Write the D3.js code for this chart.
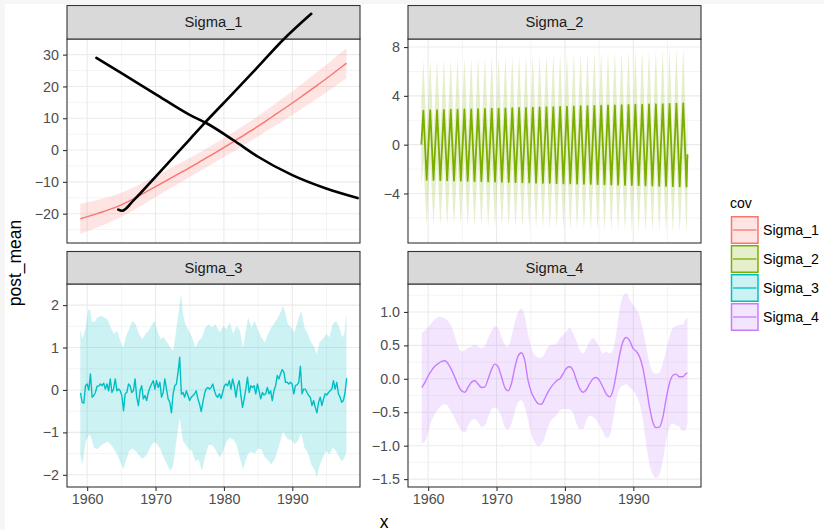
<!DOCTYPE html>
<html><head><meta charset="utf-8">
<script src="https://cdn.jsdelivr.net/npm/d3@7"></script>
<style>body{margin:0;background:#fff} svg{display:block} text{font-family:"Liberation Sans", Arial, Helvetica, sans-serif}</style>
</head><body><svg id="c" width="824" height="530"></svg>
<script>
// ---------------- DATA ----------------
const covNames = ["Sigma_1","Sigma_2","Sigma_3","Sigma_4"];
const xTicks = [1960,1970,1980,1990];
const xMinor = [1965,1975,1985,1995];

// Sigma_1
const s1_year = [1959,1961,1963,1965,1967,1969,1971,1973,1975,1977,1979,1981,1983,1985,1987,1989,1991,1993,1995,1997,1997.92];
const s1_mean = [-21.6,-20.3,-18.9,-17.2,-15.1,-12.7,-10.3,-7.9,-5.5,-3.0,-0.5,2.1,4.8,7.5,10.4,13.3,16.3,19.4,22.5,25.8,27.3];
const s1_hi   = [-16.9,-15.9,-14.8,-13.4,-11.5,-9.3,-7.1,-4.8,-2.5,-0.05,2.45,5.1,7.9,10.7,13.8,16.9,20.1,23.5,26.8,30.4,32.0];
const s1_lo   = [-26.3,-24.7,-23.0,-21.0,-18.7,-16.1,-13.5,-11.0,-8.5,-5.95,-3.45,-0.9,1.7,4.3,7.0,9.7,12.5,15.3,18.2,21.2,22.6];
// black annotation strokes drawn over Sigma_1 (in Sigma_1 data units)
const markA_x = [1961.35,1965.14,1969.99,1975.0,1977.47,1981.35,1984.99,1990.0,1994.95,1999.55];
const markA_y = [28.96,24.0,17.6,11.05,8.43,3.16,-2.1,-7.9,-12.1,-15.1];
const markB_x = [1964.55,1965.1,1966.78,1969.99,1975.04,1977.23,1981.35,1984.99,1988.63,1992.77];
const markB_y = [-18.7,-19.1,-15.8,-8.4,3.47,8.62,17.9,26.2,34.6,42.85];

// Sigma_2 (one peak and one trough per year)
const s2_start = [0, 3.5];      // value, half-width
const s2_end   = [-0.79, 3.9];
const s2_top = [2.79,2.82,2.83,2.84,2.86,2.87,2.89,2.90,2.92,2.93,2.95,2.96,2.98,2.99,3.01,3.02,3.04,3.05,3.07,3.08,3.10,3.12,3.13,3.15,3.16,3.18,3.19,3.21,3.22,3.24,3.25,3.27,3.28,3.30,3.31,3.33,3.35,3.37,3.39];
const s2_bot = [-2.89,-2.90,-2.92,-2.93,-2.95,-2.96,-2.98,-2.99,-3.00,-3.02,-3.03,-3.05,-3.06,-3.07,-3.09,-3.10,-3.12,-3.13,-3.14,-3.16,-3.17,-3.18,-3.20,-3.21,-3.23,-3.24,-3.25,-3.27,-3.28,-3.30,-3.31,-3.32,-3.34,-3.35,-3.37,-3.38,-3.40,-3.42,-3.44];
const s2_sdTop = [4.15,4.16,4.17,4.18,4.19,4.20,4.21,4.22,4.23,4.24,4.25,4.26,4.27,4.28,4.29,4.30,4.31,4.32,4.33,4.34,4.35,4.36,4.37,4.38,4.39,4.40,4.41,4.42,4.43,4.44,4.45,4.46,4.47,4.48,4.49,4.50,4.50,4.51,4.51];
const s2_sdBot = [3.70,3.70,3.71,3.71,3.72,3.72,3.73,3.73,3.74,3.74,3.75,3.75,3.76,3.76,3.77,3.77,3.78,3.78,3.79,3.79,3.80,3.80,3.80,3.81,3.81,3.81,3.82,3.82,3.82,3.83,3.83,3.83,3.84,3.84,3.84,3.85,3.85,3.86,3.86];

// Sigma_3 posterior mean (quarterly, 1959.03 .. 1998)
const s3_mean = [-0.07,-0.29,-0.31,0.10,0.14,0.00,0.38,-0.17,-0.13,-0.06,0.09,0.09,0.14,0.10,0.16,0.02,0.14,-0.02,0.26,-0.06,0.02,0.26,-0.02,0.02,-0.02,-0.13,-0.49,-0.09,-0.06,0.14,0.10,-0.06,-0.02,0.26,-0.17,-0.37,-0.02,0.10,-0.21,-0.13,-0.25,-0.06,0.06,0.14,0.22,0.02,0.22,0.06,0.18,-0.17,-0.06,0.26,0.02,-0.21,-0.29,-0.54,-0.09,0.10,0.14,0.42,0.77,-0.10,-0.06,-0.17,-0.02,-0.13,-0.25,-0.17,-0.13,-0.09,-0.02,-0.21,-0.33,-0.51,-0.29,-0.09,0.02,0.06,0.02,0.06,0.14,-0.02,-0.13,-0.17,-0.09,-0.20,-0.06,0.10,0.14,0.10,0.22,0.02,0.26,0.10,-0.17,0.10,0.22,-0.13,-0.41,-0.21,0.02,0.30,-0.06,0.10,0.06,0.10,-0.09,0.14,-0.02,-0.21,-0.06,-0.12,-0.09,0.06,-0.09,-0.02,-0.25,-0.02,0.10,0.34,0.26,0.38,0.48,0.42,0.18,0.18,0.14,0.18,0.14,-0.09,0.10,0.12,0.18,0.56,-0.09,0.02,0.02,-0.06,-0.13,-0.17,-0.37,-0.25,-0.41,-0.54,-0.29,-0.17,-0.37,-0.21,-0.09,-0.12,-0.06,-0.02,0.02,0.22,0.02,0.18,-0.09,-0.17,-0.29,-0.25,-0.06,0.28];
const s3_bandYear = [1959.0,1959.31,1959.80,1960.14,1960.43,1960.63,1961.01,1961.50,1961.98,1962.47,1962.96,1963.44,1963.93,1964.41,1964.90,1965.29,1965.63,1966.11,1966.60,1967.08,1967.57,1968.05,1968.54,1969.02,1969.51,1969.85,1970.24,1970.72,1971.21,1971.69,1972.18,1972.57,1972.91,1973.25,1973.54,1973.73,1974.02,1974.36,1974.85,1975.33,1975.82,1976.30,1976.79,1977.28,1977.76,1978.25,1978.73,
  1979.41,1979.89,1980.38,1980.86,1981.35,1981.83,1982.32,1982.80,1983.05,1983.53,1984.02,1984.50,1984.99,1985.47,1985.96,1986.45,1986.93,1987.42,1987.90,1988.39,1988.63,1988.87,1989.36,1989.84,1990.33,1990.81,1991.30,1991.78,1992.27,1992.76,1993.24,1993.58,1993.97,1994.45,1994.94,1995.43,1995.91,1996.40,1996.88,1997.27,1997.61,1997.85,1997.92];
const s3_hi = [1.43,1.20,1.47,1.87,1.91,1.63,1.59,1.71,1.75,1.71,1.67,1.47,1.32,1.40,1.12,1.00,1.24,1.43,1.63,1.55,1.32,1.20,1.32,1.40,1.55,1.63,1.40,1.20,1.24,1.12,1.00,0.92,1.28,1.71,2.03,2.28,1.79,1.55,1.40,1.24,1.00,1.16,1.24,1.47,1.55,1.47,1.55,
  1.36,1.51,1.43,1.59,1.32,1.51,1.40,1.00,1.24,1.71,1.47,1.63,1.40,1.24,1.12,1.32,1.47,1.59,1.71,1.87,1.99,1.87,1.55,1.47,1.36,1.63,1.87,1.47,1.32,1.12,1.00,0.84,1.12,1.20,1.32,1.24,1.55,1.63,1.47,1.24,1.32,1.75,1.79];
const s3_lo = [-1.55,-1.76,-1.21,-1.09,-1.05,-1.15,-1.36,-1.40,-1.32,-1.26,-1.22,-1.28,-1.40,-1.52,-1.72,-1.87,-1.70,-1.44,-1.38,-1.44,-1.54,-1.62,-1.56,-1.42,-1.28,-1.23,-1.28,-1.40,-1.60,-1.76,-1.91,-1.79,-1.36,-0.97,-0.65,-0.89,-1.21,-1.28,-1.40,-1.44,-1.68,-1.64,-1.91,-1.55,-1.30,-1.30,-1.40,
  -1.60,-1.44,-1.21,-1.13,-1.17,-1.28,-1.60,-1.87,-1.74,-1.50,-1.46,-1.50,-1.38,-1.40,-1.58,-1.66,-1.75,-1.64,-1.40,-1.13,-0.97,-1.05,-1.17,-1.17,-1.28,-1.20,-1.01,-1.36,-1.48,-1.76,-1.87,-2.07,-1.79,-1.60,-1.44,-1.52,-1.36,-1.44,-1.60,-1.68,-1.60,-1.50,-1.44];

// Sigma_4
const s4_year = [1959.07,1959.56,1960.04,1960.53,1961.01,1961.50,1961.98,1962.47,1962.95,1963.44,1963.92,1964.41,1964.89,1965.38,1965.87,1966.35,1966.84,1967.32,1967.81,1968.29,1968.78,1969.26,1969.75,1970.23,1970.72,1971.21,1971.69,1972.18,1972.66,1973.15,1973.63,1974.12,1974.60,1975.09,1975.57,1976.06,1976.55,1977.03,1977.52,1978.00,1978.49,1978.88,
  1979.27,1979.75,1980.24,1980.72,1981.21,1981.69,1982.18,1982.66,1983.15,1983.63,1984.12,1984.60,1985.09,1985.58,1986.06,1986.55,1987.03,1987.52,1988.00,1988.49,1988.97,1989.46,1989.94,1990.43,1990.91,1991.40,1991.89,1992.37,1992.86,1993.34,1993.83,1994.31,1994.80,1995.28,1995.77,1996.25,1996.74,1997.23,1997.71,1997.92];
const s4_mean = [-0.13,-0.05,0.05,0.13,0.19,0.23,0.26,0.27,0.22,0.13,0.02,-0.10,-0.18,-0.20,-0.12,-0.05,-0.03,-0.08,-0.13,-0.12,0.00,0.14,0.22,0.18,0.03,-0.13,-0.18,-0.07,0.16,0.34,0.39,0.28,-0.02,-0.20,-0.30,-0.37,-0.38,-0.30,-0.20,-0.12,-0.06,-0.02,
  0.00,0.08,0.16,0.18,0.12,-0.02,-0.15,-0.20,-0.16,-0.07,0.00,0.02,-0.03,-0.13,-0.23,-0.27,-0.17,0.08,0.36,0.56,0.62,0.57,0.46,0.41,0.33,0.16,-0.12,-0.42,-0.65,-0.73,-0.72,-0.58,-0.30,-0.07,0.05,0.07,0.03,0.03,0.08,0.09];
const s4_hi = [0.69,0.73,0.78,0.84,0.89,0.93,0.92,0.90,0.86,0.78,0.63,0.48,0.41,0.43,0.47,0.48,0.51,0.48,0.46,0.49,0.61,0.71,0.79,0.76,0.63,0.51,0.48,0.63,0.84,0.99,1.05,0.94,0.68,0.46,0.36,0.32,0.32,0.38,0.48,0.51,0.51,0.54,
  0.61,0.66,0.71,0.76,0.68,0.56,0.43,0.38,0.46,0.56,0.61,0.56,0.46,0.38,0.41,0.38,0.43,0.68,1.04,1.24,1.28,1.19,1.11,1.04,0.94,0.73,0.48,0.23,0.10,0.08,0.10,0.23,0.43,0.63,0.76,0.79,0.81,0.81,0.90,0.91];
const s4_lo = [-0.97,-0.93,-0.78,-0.62,-0.52,-0.45,-0.40,-0.38,-0.42,-0.50,-0.60,-0.70,-0.78,-0.80,-0.70,-0.62,-0.60,-0.65,-0.72,-0.70,-0.57,-0.46,-0.43,-0.46,-0.57,-0.72,-0.76,-0.67,-0.50,-0.35,-0.32,-0.42,-0.62,-0.83,-0.95,-1.00,-0.98,-0.88,-0.72,-0.62,-0.57,-0.53,
  -0.47,-0.45,-0.45,-0.46,-0.52,-0.67,-0.75,-0.75,-0.62,-0.55,-0.57,-0.62,-0.70,-0.80,-0.88,-0.85,-0.62,-0.32,-0.15,-0.10,-0.08,-0.13,-0.17,-0.25,-0.37,-0.62,-0.98,-1.28,-1.43,-1.48,-1.43,-1.23,-0.93,-0.72,-0.67,-0.70,-0.72,-0.78,-0.75,-0.67];

// tick values per panel
const yTicks1 = [-20,-10,0,10,20,30];
const yTicks2 = [-4,0,4,8];
const yTicks3 = [-2,-1,0,1,2];
const yTicks4 = [-1.5,-1.0,-0.5,0.0,0.5,1.0];

// ---------------- BUILD SERIES ----------------
const colors = ["#F8766D","#7CAE00","#00BFC4","#C77CFF"];
function zipLine(xs, ys){ return xs.map((x,i)=>({x, y:ys[i]})); }
function zipBand(xs, lo, hi){ return xs.map((x,i)=>({x, lo:lo[i], hi:hi[i]})); }

const s2pts = [{x:1959.0, y:s2_start[0], sd:s2_start[1]}];
s2_top.forEach((t,i)=>{
  s2pts.push({x:1959+i+0.30, y:t, sd:s2_sdTop[i]});
  s2pts.push({x:1959+i+0.78, y:s2_bot[i], sd:s2_sdBot[i]});
});
s2pts.push({x:1997.92, y:s2_end[0], sd:s2_end[1]});

const s3_year = s3_mean.map((d,i)=> 1959.03 + i*(1997.95-1959.03)/(s3_mean.length-1));

const series = [
  {name:"Sigma_1", line:zipLine(s1_year,s1_mean), band:zipBand(s1_year,s1_lo,s1_hi), ticks:yTicks1, curve:d3.curveMonotoneX, fmt:d3.format("d")},
  {name:"Sigma_2", line:s2pts.map(p=>({x:p.x,y:p.y})), band:s2pts.map(p=>({x:p.x,lo:p.y-p.sd,hi:p.y+p.sd})), ticks:yTicks2, curve:d3.curveLinear, fmt:d3.format("d")},
  {name:"Sigma_3", line:zipLine(s3_year,s3_mean), band:zipBand(s3_bandYear,s3_lo,s3_hi), ticks:yTicks3, curve:d3.curveLinear, fmt:d3.format("d")},
  {name:"Sigma_4", line:zipLine(s4_year,s4_mean), band:zipBand(s4_year,s4_lo,s4_hi), ticks:yTicks4, curve:d3.curveMonotoneX, fmt:d3.format(".1f")}
];

// ---------------- LAYOUT ----------------
const svg = d3.select("#c");
svg.append("rect").attr("width",824).attr("height",530).attr("fill","#ffffff");
// faint outer frame of the original screenshot
svg.append("rect").attr("x",0).attr("y",0).attr("width",824).attr("height",4).attr("fill","#f6f6f6");
svg.append("rect").attr("x",0).attr("y",0).attr("width",5).attr("height",530).attr("fill","#f6f6f6");

const cols = [[67,360],[408,701]];
const rows = [{strip:[5.5,39], panel:[39,243]},{strip:[251.5,284], panel:[284,487]}];

const allX = [];
series.forEach(s=>{ s.line.forEach(d=>allX.push(d.x)); s.band.forEach(d=>allX.push(d.x)); });
const xe = d3.extent(allX), xp = (xe[1]-xe[0])*0.05;
const xDom = [xe[0]-xp, xe[1]+xp];
const minus = s => s.replace(/^-/, "\u2212");

let scales1 = null;
series.forEach((s,i)=>{
  const c = cols[i%2], r = rows[Math.floor(i/2)];
  const x = d3.scaleLinear().domain(xDom).range([c[0],c[1]]);
  const vals = [];
  s.line.forEach(d=>vals.push(d.y)); s.band.forEach(d=>{vals.push(d.lo); vals.push(d.hi);});
  const ye = d3.extent(vals), yp = (ye[1]-ye[0])*0.05;
  const y = d3.scaleLinear().domain([ye[0]-yp, ye[1]+yp]).range([r.panel[1], r.panel[0]]);
  if(i===0) scales1 = {x,y};
  const g = svg.append("g");
  const clipId = "clip"+i;
  svg.append("clipPath").attr("id",clipId).append("rect")
    .attr("x",c[0]).attr("y",r.panel[0]).attr("width",c[1]-c[0]).attr("height",r.panel[1]-r.panel[0]);
  const gc = g.append("g").attr("clip-path",`url(#${clipId})`);
  const step = s.ticks[1]-s.ticks[0];
  const yMinor = [];
  for(let k=-1;k<s.ticks.length;k++){ yMinor.push(s.ticks[0]+step*(k+0.5)); }
  const yd = y.domain();
  gc.selectAll(".ymin").data(yMinor.filter(v=>v>=yd[0]&&v<=yd[1])).enter().append("line")
    .attr("x1",c[0]).attr("x2",c[1]).attr("y1",d=>y(d)).attr("y2",d=>y(d))
    .attr("stroke","#ebebeb").attr("stroke-width",0.55);
  gc.selectAll(".xmin").data(xMinor).enter().append("line")
    .attr("y1",r.panel[0]).attr("y2",r.panel[1]).attr("x1",d=>x(d)).attr("x2",d=>x(d))
    .attr("stroke","#ebebeb").attr("stroke-width",0.55);
  gc.selectAll(".ymaj").data(s.ticks).enter().append("line")
    .attr("x1",c[0]).attr("x2",c[1]).attr("y1",d=>y(d)).attr("y2",d=>y(d))
    .attr("stroke","#ebebeb").attr("stroke-width",1.1);
  gc.selectAll(".xmaj").data(xTicks).enter().append("line")
    .attr("y1",r.panel[0]).attr("y2",r.panel[1]).attr("x1",d=>x(d)).attr("x2",d=>x(d))
    .attr("stroke","#ebebeb").attr("stroke-width",1.1);
  gc.append("path").datum(s.band)
    .attr("d", d3.area().x(d=>x(d.x)).y0(d=>y(d.lo)).y1(d=>y(d.hi)).curve(s.curve))
    .attr("fill",colors[i]).attr("fill-opacity",0.2);
  gc.append("path").datum(s.line)
    .attr("d", d3.line().x(d=>x(d.x)).y(d=>y(d.y)).curve(s.curve))
    .attr("fill","none").attr("stroke",colors[i]).attr("stroke-width", i===1?1.8:1.4).attr("stroke-linejoin","round");
  g.append("rect").attr("x",c[0]).attr("y",r.panel[0]).attr("width",c[1]-c[0]).attr("height",r.panel[1]-r.panel[0])
    .attr("fill","none").attr("stroke","#333333").attr("stroke-width",1.1);
  g.append("rect").attr("x",c[0]).attr("y",r.strip[0]).attr("width",c[1]-c[0]).attr("height",r.strip[1]-r.strip[0])
    .attr("fill","#d9d9d9").attr("stroke","#333333").attr("stroke-width",1.1);
  g.append("text").attr("x",(c[0]+c[1])/2).attr("y",(r.strip[0]+r.strip[1])/2).attr("dy","0.35em")
    .attr("text-anchor","middle").attr("font-size",14.7).attr("fill","#1a1a1a").text(s.name);
  const ya = g.append("g").attr("transform",`translate(${c[0]},0)`)
    .call(d3.axisLeft(y).tickValues(s.ticks).tickSize(4).tickPadding(4).tickFormat(d=>minus(s.fmt(d))));
  ya.select(".domain").remove();
  ya.selectAll("line").attr("stroke","#333333").attr("stroke-width",1.1);
  ya.selectAll("text").attr("font-size",14.3).attr("fill","#4d4d4d").attr("font-family",null);
  if(i>=2){
    const xa = g.append("g").attr("transform",`translate(0,${r.panel[1]})`)
      .call(d3.axisBottom(x).tickValues(xTicks).tickSize(4).tickPadding(3).tickFormat(d3.format("d")));
    xa.select(".domain").remove();
    xa.selectAll("line").attr("stroke","#333333").attr("stroke-width",1.1);
    xa.selectAll("text").attr("font-size",14.3).attr("fill","#4d4d4d").attr("font-family",null);
  }
});

// black annotation strokes over Sigma_1 (unclipped)
const markLine = d3.line().x(d=>scales1.x(d.x)).y(d=>scales1.y(d.y)).curve(d3.curveMonotoneX);
[zipLine(markA_x,markA_y), zipLine(markB_x,markB_y)].forEach(pts=>{
  svg.append("path").datum(pts).attr("d",markLine).attr("fill","none")
    .attr("stroke","#000").attr("stroke-width",2.6).attr("stroke-linecap","round").attr("stroke-linejoin","round");
});

// axis titles
svg.append("text").attr("x",384).attr("y",527.5).attr("text-anchor","middle").attr("font-size",17.5).attr("fill","#000").text("x");
svg.append("text").attr("transform","translate(20.5,263) rotate(-90)").attr("text-anchor","middle").attr("font-size",17.5).attr("fill","#000").text("post_mean");

// legend
const lg = svg.append("g");
lg.append("text").attr("x",730).attr("y",208).attr("font-size",14).attr("fill","#000").text("cov");
covNames.forEach((n,i)=>{
  const y0 = 216 + i*29;
  lg.append("rect").attr("x",731.5).attr("y",y0+0.75).attr("width",26.5).attr("height",26.5)
    .attr("fill",colors[i]).attr("fill-opacity",0.2).attr("stroke",colors[i]).attr("stroke-width",1.5);
  lg.append("line").attr("x1",733).attr("x2",756.5).attr("y1",y0+14).attr("y2",y0+14)
    .attr("stroke",colors[i]).attr("stroke-width",1.3);
  lg.append("text").attr("x",763).attr("y",y0+14).attr("dy","0.35em").attr("font-size",14.2).attr("fill","#000").text(n);
});
</script></body></html>
